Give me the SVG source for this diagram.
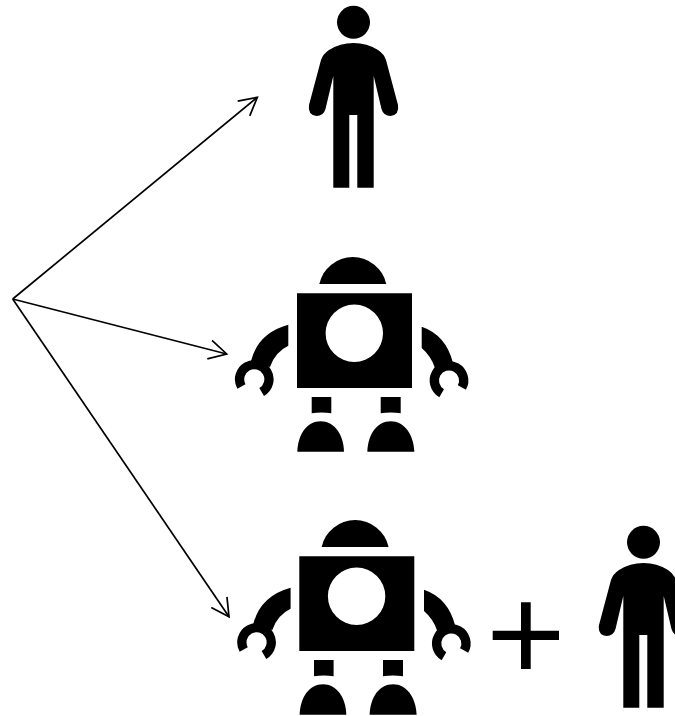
<svg xmlns="http://www.w3.org/2000/svg" width="675" height="716" viewBox="0 0 675 716">
<style>
.s{fill:#000}
.c{fill:none;stroke:#000;stroke-width:9.3}
.l{fill:none;stroke:#000;stroke-width:1.7}
</style>
<defs>
<marker id="a" markerUnits="userSpaceOnUse" markerWidth="24" markerHeight="24" refX="18" refY="10" orient="auto" viewBox="0 0 24 20">
<path d="M0.4 0.5L18 10L0.4 19.5" fill="none" stroke="#000" stroke-width="1.7"/>
</marker>
<g id="human">
<circle class="s" cx="353.5" cy="22.3" r="16.5"/>
<path class="s" d="M333.3 187.7V76L325.5 109Q323.5 116 316.5 116Q307.5 115 309 105L321 60Q323 54 329 50Q340 43 353.5 43Q367 43 378 50Q384 54 386 60L398 105Q399.5 115 390.5 116Q383.5 116 381.5 109L373.7 76V187.7H357.3V115H349.3V187.7Z"/>
</g>
<g id="robot">
<path class="s" d="M319.3 284A34.3 34.3 0 0 1 386.3 284Z"/>
<path class="s" fill-rule="evenodd" d="M297 293.3H412V388H297ZM325.6 333.3A28.7 28.7 0 0 0 383 333.3A28.7 28.7 0 0 0 325.6 333.3Z"/>
<path class="s" d="M288.3 324.7Q258 333 251 361L270 367Q275 352 288.3 345.7Z"/>
<path class="c" d="M261.65 392A14.7 14.7 0 1 0 241.4 386.4"/>
<path class="s" d="M421.7 326.7Q446 335 453 363L435 368Q431 356 421.7 348Z"/>
<path class="c" d="M441.65 393.2A14.7 14.7 0 1 1 461.86 387.6"/>
<path class="s" d="M311.7 397H331.3V413.3Q321.5 411.5 311.7 413.3Z"/>
<path class="s" d="M380.7 397H400.7V413.3Q390.7 411.5 380.7 413.3Z"/>
<path class="s" d="M297.3 451.7C298 434 307 421.3 320.7 421.3C334 421.3 343.5 434 344 451.7Z"/>
<path class="s" d="M367.3 451.7C368 434 377 421.3 390.8 421.3C404 421.3 413.5 434 414.3 451.7Z"/>
</g>
</defs>
<g id="connectors">
<path class="l" d="M12.7 299L257.3 97.3" marker-end="url(#a)"/>
<path class="l" d="M12.7 299L226.7 354" marker-end="url(#a)"/>
<path class="l" d="M12.7 299L229 616.7" marker-end="url(#a)"/>
</g>
<g id="human-top"><use href="#human"/></g>
<g id="robot-middle"><use href="#robot"/></g>
<g id="robot-bottom"><use href="#robot" transform="translate(2.3 263)"/></g>
<g id="plus"><path class="s" d="M492.7 630.7H521V602.3H530.7V630.7H559V640H530.7V669H521V640H492.7Z"/></g>
<g id="human-bottom"><use href="#human" transform="translate(290 520)"/></g>
</svg>
